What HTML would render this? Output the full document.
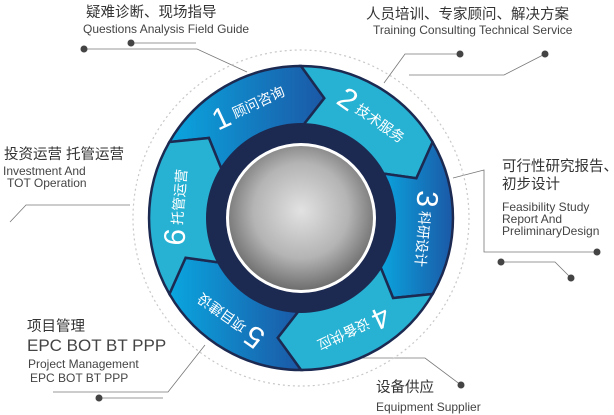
<!DOCTYPE html>
<html><head><meta charset="utf-8"><style>
html,body{margin:0;padding:0;background:#fff;}
body{width:614px;height:415px;overflow:hidden;position:relative;font-family:"Liberation Sans","Noto Sans CJK SC",sans-serif;}
.t{position:absolute;white-space:nowrap;color:#333;line-height:1;}
.cn{font-size:14.5px;color:#333;}
.en{font-size:12px;color:#444;}
</style></head><body>
<svg id="s" width="614" height="415" style="position:absolute;left:0;top:0">
<defs>
<linearGradient id="gd" x1="0" y1="0" x2="1" y2="0"><stop offset="0" stop-color="#0aa6df"/><stop offset="1" stop-color="#1b58a6"/></linearGradient>
<radialGradient id="sp" cx="0.5" cy="0.45" r="0.55"><stop offset="0" stop-color="#e2e2e2"/><stop offset="0.6" stop-color="#b4b4b4"/><stop offset="1" stop-color="#6e6e6e"/></radialGradient>
</defs>
<g fill="none" stroke="#777" stroke-width="0.8">
<polyline points="131,43 196,43"/>
<polyline points="84,49 197,49 247,72"/>
<polyline points="460,54 405,54 384,83"/>
<polyline points="545,54 504,75 409,75"/>
<polyline points="130,205 26,205 10,222"/>
<polyline points="453,178 484,170 484,252 597,252"/>
<polyline points="501,262 555,262 571,278"/>
<polyline points="205,345 168,392 53,392"/>
<polyline points="99,398 163,398"/>
<polyline points="340,358 425,358 461,385"/>
</g>
<g fill="#444">
<circle cx="84" cy="49" r="3.5"/><circle cx="131" cy="43" r="3.5"/>
<circle cx="460" cy="54" r="3.5"/><circle cx="545" cy="54" r="3.5"/>
<circle cx="597" cy="252" r="3.5"/><circle cx="501" cy="262" r="3.5"/><circle cx="571" cy="278" r="3.5"/>
<circle cx="99" cy="398" r="3.5"/><circle cx="461" cy="385" r="3.5"/>
</g>
<circle cx="301" cy="218" r="168" fill="none" stroke="#c8c8c8" stroke-width="1.2" stroke-dasharray="2,3"/>
<g id="segs"></g>
<circle cx="301" cy="218" r="95" fill="#1c2a52"/>
<circle cx="301" cy="218" r="75" fill="#fff"/>
<circle cx="301" cy="218" r="72" fill="url(#sp)"/>
<g id="txt"></g>
</svg>
<div class="t cn" style="left:86px;top:6px">疑难诊断、现场指导</div>
<div class="t en" style="left:83px;top:23px">Questions Analysis Field Guide</div>
<div class="t cn" style="left:366px;top:8px">人员培训、专家顾问、解决方案</div>
<div class="t en" style="left:373px;top:24px">Training Consulting Technical Service</div>
<div class="t cn" style="left:4px;top:148px">投资运营 托管运营</div>
<div class="t en" style="left:3px;top:165px">Investment And</div>
<div class="t en" style="left:7px;top:177px">TOT Operation</div>
<div class="t cn" style="left:502px;top:160px">可行性研究报告、</div>
<div class="t cn" style="left:502px;top:178px">初步设计</div>
<div class="t en" style="left:502px;top:201px">Feasibility Study</div>
<div class="t en" style="left:502px;top:213px">Report And</div>
<div class="t en" style="left:502px;top:225px">PreliminaryDesign</div>
<div class="t cn" style="left:27px;top:320px">项目管理</div>
<div class="t" style="left:27px;top:337px;font-size:17px;color:#444">EPC BOT BT PPP</div>
<div class="t en" style="left:28px;top:358px">Project Management</div>
<div class="t en" style="left:30px;top:372px">EPC BOT BT PPP</div>
<div class="t cn" style="left:376px;top:381px">设备供应</div>
<div class="t en" style="left:376px;top:401px">Equipment Supplier</div>
<script>
var cx=301,cy=218,R=152,r=90,m=122,off=11;
function P(rad,deg){var a=deg*Math.PI/180;return (cx+rad*Math.cos(a)).toFixed(1)+","+(cy+rad*Math.sin(a)).toFixed(1);}
var labels=[["1","顾问咨询"],["2","技术服务"],["3","科研设计"],["4","设备供应"],["5","项目建设"],["6","托管运营"]];
var segs="",txt="";
for(var i=0;i<6;i++){
 var a=-150+i*60,b=a+60;
 var fill=(i%2==0)?"url(#gd)":"#27b1d2";
 var d="M"+P(R,a)+" A"+R+","+R+" 0 0 1 "+P(R,b)+" L"+P(m,b+off)+" L"+P(r,b)+" A"+r+","+r+" 0 0 0 "+P(r,a)+" L"+P(m,a+off)+" Z";
 segs+='<path d="'+d+'" fill="'+fill+'" stroke="#1c2a52" stroke-width="2.5" stroke-linejoin="miter"/>';
 var c=(a+b)/2+5,ca=c*Math.PI/180;
 var x=cx+m*Math.cos(ca),y=cy+m*Math.sin(ca);
 txt+='<g transform="translate('+x.toFixed(1)+','+y.toFixed(1)+') rotate('+(c+90)+')"><text x="0" y="8" text-anchor="middle" fill="#fff" font-family="Liberation Sans, Noto Sans CJK SC, sans-serif"><tspan font-size="30">'+labels[i][0]+'</tspan><tspan dx="4" font-size="14" dy="-4">'+labels[i][1]+'</tspan></text></g>';
}
document.getElementById("segs").innerHTML=segs;
document.getElementById("txt").innerHTML=txt;
</script>
</body></html>
